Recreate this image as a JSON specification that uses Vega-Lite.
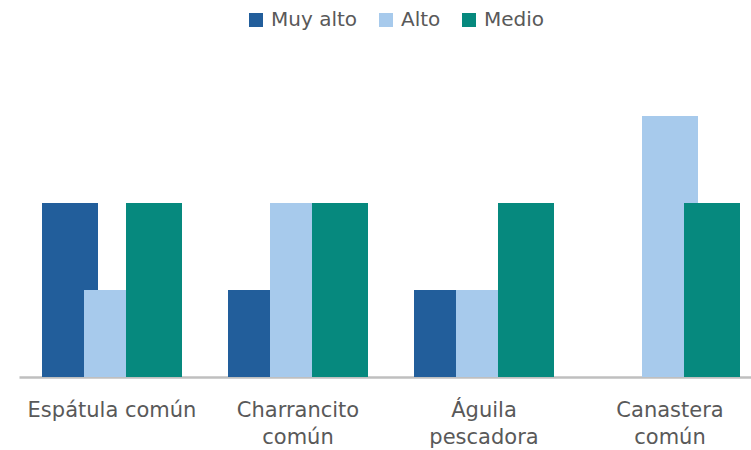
{
  "$schema": "https://vega.github.io/schema/vega-lite/v6.json",
  "width": 732,
  "height": 348,
  "padding": {"left": 19, "top": 29, "right": 0, "bottom": 73},
  "autosize": {"type": "none"},
  "background": "white",
  "config": {"view": {"stroke": null}, "font": "DejaVu Sans"},
  "data": {
    "values": [
      {"especie": "Espátula común", "nivel": "Muy alto", "valor": 2},
      {"especie": "Espátula común", "nivel": "Alto", "valor": 1},
      {"especie": "Espátula común", "nivel": "Medio", "valor": 2},
      {"especie": "Charrancito común", "nivel": "Muy alto", "valor": 1},
      {"especie": "Charrancito común", "nivel": "Alto", "valor": 2},
      {"especie": "Charrancito común", "nivel": "Medio", "valor": 2},
      {"especie": "Águila pescadora", "nivel": "Muy alto", "valor": 1},
      {"especie": "Águila pescadora", "nivel": "Alto", "valor": 1},
      {"especie": "Águila pescadora", "nivel": "Medio", "valor": 2},
      {"especie": "Canastera común", "nivel": "Muy alto", "valor": 0},
      {"especie": "Canastera común", "nivel": "Alto", "valor": 3},
      {"especie": "Canastera común", "nivel": "Medio", "valor": 2}
    ]
  },
  "mark": {"type": "bar", "width": 56},
  "encoding": {
    "x": {
      "field": "especie",
      "type": "nominal",
      "sort": null,
      "scale": {"range": [0, 744], "paddingInner": 0.3226, "paddingOuter": 0.1613},
      "axis": {
        "title": null,
        "ticks": false,
        "domainColor": "#bfbfbf",
        "domainWidth": 2.5,
        "labelAngle": 0,
        "labelFontSize": 21,
        "labelColor": "#595959",
        "labelPadding": 22,
        "labelLineHeight": 27,
        "labelExpr": "datum.label == 'Espátula común' ? datum.label : split(datum.label, ' ')"
      }
    },
    "xOffset": {
      "field": "nivel",
      "type": "nominal",
      "sort": ["Muy alto", "Alto", "Medio"],
      "scale": {"paddingInner": 0, "paddingOuter": 0}
    },
    "y": {
      "field": "valor",
      "type": "quantitative",
      "scale": {"domain": [0, 4], "nice": false},
      "axis": null
    },
    "color": {
      "field": "nivel",
      "type": "nominal",
      "sort": ["Muy alto", "Alto", "Medio"],
      "scale": {"domain": ["Muy alto", "Alto", "Medio"], "range": ["#225E9B", "#A7CAEC", "#06897E"]},
      "legend": {
        "title": null,
        "orient": "none",
        "direction": "horizontal",
        "legendX": 227,
        "legendY": -19,
        "symbolType": "square",
        "symbolSize": 196,
        "symbolStrokeWidth": 0,
        "labelFontSize": 20,
        "labelColor": "#595959",
        "labelOffset": 5,
        "columnPadding": 18
      }
    }
  }
}
